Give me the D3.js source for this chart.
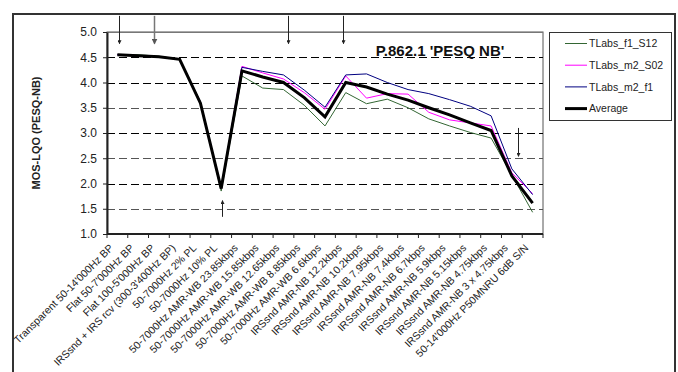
<!DOCTYPE html>
<html>
<head>
<meta charset="utf-8">
<script src="https://cdn.jsdelivr.net/npm/d3@7"></script>
<style>
  html, body { margin: 0; padding: 0; background: #fff; }
  svg { display: block; font-family: Arial, "Liberation Sans", sans-serif; }
</style>
</head>
<body>
<svg id="chart" width="678" height="372"></svg>
<script>
// Test conditions along the x axis
const categories = [
  "Transparent 50-14'000Hz BP",
  "Flat 50-7'000Hz BP",
  "Flat 100-5'000Hz BP",
  "IRSsnd + IRS rcv (300-3'400Hz BP)",
  "50-7000Hz 2% PL",
  "50-7000Hz 10% PL",
  "50-7000Hz AMR-WB 23.85kbps",
  "50-7000Hz AMR-WB 15.85kbps",
  "50-7000Hz AMR-WB 12.65kbps",
  "50-7000Hz AMR-WB 8.85kbps",
  "50-7000Hz AMR-WB 6.6kbps",
  "IRSsnd AMR-NB 12.2kbps",
  "IRSsnd AMR-NB 10.2kbps",
  "IRSsnd AMR-NB 7.95kbps",
  "IRSsnd AMR-NB 7.4kbps",
  "IRSsnd AMR-NB 6.7kbps",
  "IRSsnd AMR-NB 5.9kbps",
  "IRSsnd AMR-NB 5.15kbps",
  "IRSsnd AMR-NB 4.75kbps",
  "IRSsnd AMR-NB 3 x 4.75kbps",
  "50-14'000Hz P50MNRU 6dB S/N"
];

// MOS-LQO scores per talker set
const tlabsF1S12 = [4.55, 4.55, 4.52, 4.46, 3.59, 1.85, 4.13, 3.89, 3.86, 3.55, 3.14, 3.80, 3.58, 3.67, 3.50, 3.28, 3.14, 3.01, 2.90, 2.17, 1.43];
const tlabsM2S02 = [4.55, 4.53, 4.51, 4.46, 3.60, 1.90, 4.32, 4.19, 4.07, 3.80, 3.47, 4.13, 3.69, 3.78, 3.77, 3.41, 3.26, 3.20, 3.14, 2.21, 1.80];
const tlabsM2F1  = [4.55, 4.53, 4.51, 4.46, 3.62, 1.92, 4.30, 4.22, 4.15, 3.85, 3.51, 4.15, 4.17, 4.00, 3.86, 3.78, 3.66, 3.53, 3.34, 2.29, 1.78];
const average    = [4.55, 4.53, 4.51, 4.46, 3.59, 1.90, 4.23, 4.11, 4.00, 3.70, 3.32, 4.00, 3.91, 3.77, 3.65, 3.50, 3.36, 3.20, 3.05, 2.15, 1.61];

const seriesNames = ["TLabs_f1_S12", "TLabs_m2_S02", "TLabs_m2_f1", "Average"];
const yTicks = [1.0, 1.5, 2.0, 2.5, 3.0, 3.5, 4.0, 4.5, 5.0];

// Annotation arrows: position in category units, start and end scores
const arrowX     = [0.08, 1.76, 8.22, 10.87, 19.28, 5.02];
const arrowFrom  = [5.32, 5.32, 5.32, 5.32, 3.10, 1.34];
const arrowTo    = [4.77, 4.77, 4.77, 4.77, 2.54, 1.66];

const series = [
  { name: seriesNames[0], values: tlabsF1S12, color: "#336633", width: 1 },
  { name: seriesNames[1], values: tlabsM2S02, color: "#ff00ff", width: 1 },
  { name: seriesNames[2], values: tlabsM2F1,  color: "#000080", width: 1 },
  { name: seriesNames[3], values: average,    color: "#000000", width: 3 }
];

const svg = d3.select("#chart");
const plot = { left: 107, right: 543, top: 32, bottom: 234 };

const x = d3.scaleBand().domain(categories).range([plot.left, plot.right]).padding(0);
const xIdx = d3.scaleLinear().domain([-0.5, categories.length - 0.5]).range([plot.left, plot.right]);
const y = d3.scaleLinear().domain([1, 5]).range([plot.bottom, plot.top]);
const cx = c => x(c) + x.bandwidth() / 2;

// Outer chart frame
svg.append("path")
  .attr("d", "M13,372 V14 H675 V372")
  .attr("fill", "none").attr("stroke", "#333").attr("stroke-width", 2);

// Plot area frame
svg.append("rect")
  .attr("x", plot.left).attr("y", plot.top)
  .attr("width", plot.right - plot.left).attr("height", plot.bottom - plot.top)
  .attr("fill", "none").attr("stroke", "#555").attr("stroke-width", 1);

// Dashed gridlines
svg.append("g").selectAll("line")
  .data(yTicks.filter(t => t > 1))
  .join("line")
  .attr("x1", plot.left).attr("x2", plot.right)
  .attr("y1", d => Math.round(y(d)) + 0.5).attr("y2", d => Math.round(y(d)) + 0.5)
  .attr("stroke", d => (d === 5 ? "#777" : (d % 1 === 0 || d === 4.5 ? "#000" : "#555")))
  .attr("stroke-dasharray", d => (d === 5 ? null : "8,4"))
  .attr("stroke-width", 1);

// Y axis
const yAxis = svg.append("g")
  .attr("transform", `translate(${plot.left},0)`)
  .call(d3.axisLeft(y).tickValues(yTicks).tickFormat(d3.format(".1f")).tickSize(4).tickSizeOuter(0));
yAxis.select(".domain").attr("stroke", "#222").attr("stroke-width", 2);
yAxis.selectAll(".tick line").attr("stroke", "#222");
yAxis.selectAll(".tick text").attr("font-size", 12).attr("fill", "#222")
  .attr("font-family", "Arial, 'Liberation Sans', sans-serif").attr("x", -10);

// X axis with ticks on category boundaries
const xAxisG = svg.append("g").attr("transform", `translate(0,${plot.bottom})`);
xAxisG.append("line")
  .attr("x1", plot.left).attr("x2", plot.right).attr("y1", 0).attr("y2", 0)
  .attr("stroke", "#222").attr("stroke-width", 2);
xAxisG.selectAll("line.tick")
  .data(d3.range(categories.length + 1))
  .join("line").attr("class", "tick")
  .attr("x1", i => xIdx(i - 0.5)).attr("x2", i => xIdx(i - 0.5))
  .attr("y1", 0).attr("y2", 4)
  .attr("stroke", "#222");
xAxisG.selectAll("text")
  .data(categories)
  .join("text")
  .attr("transform", d => `translate(${cx(d) - 6},12) rotate(-45)`)
  .attr("text-anchor", "end")
  .attr("dy", "0.35em")
  .attr("font-size", 10.5)
  .attr("fill", "#222")
  .text(d => d);

// Y axis title
svg.append("text")
  .attr("transform", "translate(40,133) rotate(-90)")
  .attr("text-anchor", "middle")
  .attr("font-size", 11).attr("font-weight", "bold").attr("fill", "#222")
  .text("MOS-LQO (PESQ-NB)");

// Chart title
svg.append("text")
  .attr("x", 440).attr("y", 56)
  .attr("text-anchor", "middle")
  .attr("font-size", 15).attr("font-weight", "bold").attr("fill", "#111")
  .text("P.862.1 'PESQ NB'");

// Series lines
const line = d3.line().x((d, i) => cx(categories[i])).y(d => y(d));
svg.append("g").selectAll("path")
  .data(series)
  .join("path")
  .attr("d", s => line(s.values))
  .attr("fill", "none")
  .attr("stroke", s => s.color)
  .attr("stroke-width", s => s.width)
  .attr("stroke-linejoin", "miter");

// Annotation arrows
const defs = svg.append("defs");
defs.append("marker")
  .attr("id", "head").attr("viewBox", "0 0 6 6")
  .attr("refX", 5).attr("refY", 3)
  .attr("markerWidth", 4).attr("markerHeight", 4)
  .attr("orient", "auto")
  .append("path").attr("d", "M0,0 L6,3 L0,6 Z").attr("fill", "#222");
defs.append("marker")
  .attr("id", "headGray").attr("viewBox", "0 0 6 6")
  .attr("refX", 5).attr("refY", 3)
  .attr("markerWidth", 4).attr("markerHeight", 4)
  .attr("orient", "auto")
  .append("path").attr("d", "M0,0 L6,3 L0,6 Z").attr("fill", "#555");

svg.append("g").selectAll("line")
  .data(arrowX.map((v, i) => ({ x: v, from: arrowFrom[i], to: arrowTo[i], gray: i === 1 })))
  .join("line")
  .attr("x1", d => Math.round(xIdx(d.x)) + 0.5).attr("x2", d => Math.round(xIdx(d.x)) + 0.5)
  .attr("y1", d => y(d.from)).attr("y2", d => y(d.to))
  .attr("stroke", d => d.gray ? "#777" : "#222")
  .attr("stroke-width", d => d.gray ? 1.5 : 1)
  .attr("marker-end", d => d.gray ? "url(#headGray)" : "url(#head)");

// Legend
const legend = svg.append("g");
legend.append("rect")
  .attr("x", 549.5).attr("y", 32.5).attr("width", 122).attr("height", 88)
  .attr("fill", "#fff").attr("stroke", "#333").attr("stroke-width", 1);
const li = legend.selectAll("g.item")
  .data(series)
  .join("g").attr("class", "item")
  .attr("transform", (d, i) => `translate(0,${43.5 + i * 21.7})`);
li.append("line")
  .attr("x1", 565).attr("x2", 587).attr("y1", 0).attr("y2", 0)
  .attr("stroke", d => d.color).attr("stroke-width", d => d.width);
li.append("text")
  .attr("x", 589).attr("y", 0).attr("dy", "0.35em")
  .attr("font-size", 10.5).attr("fill", "#222")
  .text(d => d.name);
</script>
</body>
</html>
